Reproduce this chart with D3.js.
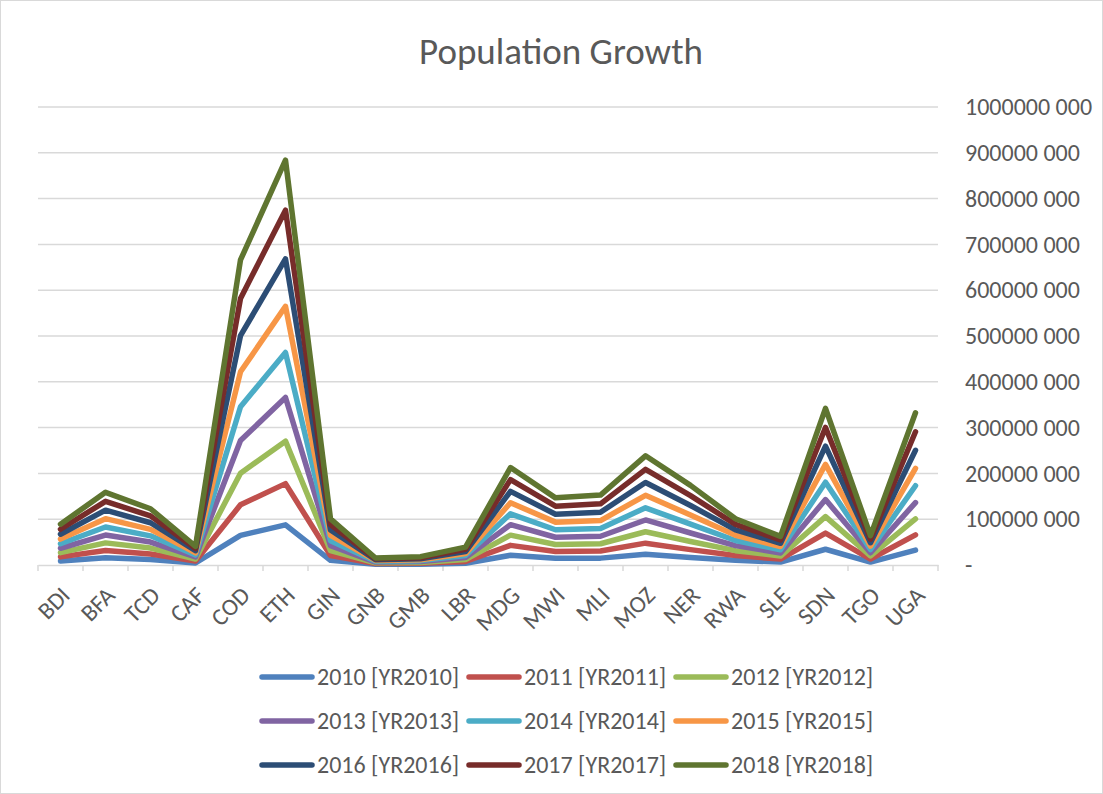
<!DOCTYPE html>
<html>
<head>
<meta charset="utf-8">
<script src="https://cdn.jsdelivr.net/npm/d3@7"></script>
<style>
  body { margin: 0; background: #fff; }
  text { font-family: Carlito, "Liberation Sans Narrow", "Noto Sans", sans-serif; fill: #595959; }
</style>
</head>
<body>
<div id="chart"></div>
<script>
// country codes along the x axis
var countries = ["BDI","BFA","TCD","CAF","COD","ETH","GIN","GNB","GMB","LBR",
                 "MDG","MWI","MLI","MOZ","NER","RWA","SLE","SDN","TGO","UGA"];

// population per year, millions (chart is a stacked line chart)
var y2010 = [8.7,15.6,11.9,4.4,64.6,87.6,10.2,1.56,1.79,3.89,21.2,14.5,15.0,23.5,16.5,10.2,6.4,34.4,6.4,32.4];
var y2011 = [9.0,16.1,12.3,4.4,66.8,90.1,10.4,1.60,1.85,4.00,21.7,14.9,15.5,24.2,17.1,10.4,6.5,35.2,6.6,33.5];
var y2012 = [9.3,16.6,12.7,4.4,69.0,92.7,10.6,1.63,1.90,4.11,22.3,15.4,15.9,24.9,17.8,10.7,6.6,36.1,6.8,34.6];
var y2013 = [9.6,17.1,13.2,4.4,71.4,95.4,10.9,1.67,1.96,4.21,22.9,15.8,16.4,25.7,18.5,11.0,6.8,37.1,6.9,35.7];
var y2014 = [9.9,17.6,13.6,4.5,73.8,98.1,11.1,1.71,2.02,4.32,23.6,16.3,16.9,26.5,19.2,11.2,6.9,38.0,7.1,36.9];
var y2015 = [10.2,18.1,14.1,4.5,76.2,100.8,11.4,1.74,2.09,4.43,24.2,16.7,17.4,27.3,20.0,11.5,7.1,38.9,7.3,38.0];
var y2016 = [10.5,18.6,14.5,4.6,78.8,103.6,11.7,1.78,2.15,4.54,24.9,17.2,18.0,28.0,20.8,11.7,7.2,39.8,7.5,39.3];
var y2017 = [10.8,19.2,15.0,4.6,81.4,106.4,12.1,1.83,2.21,4.68,25.6,17.7,18.5,28.8,21.6,12.0,7.4,40.8,7.7,40.5];
var y2018 = [11.2,19.8,15.5,4.7,84.1,109.2,12.4,1.87,2.28,4.82,26.3,18.1,19.1,29.5,22.4,12.3,7.7,41.8,7.9,41.5];

var seriesNames = ["2010 [YR2010]","2011 [YR2011]","2012 [YR2012]","2013 [YR2013]","2014 [YR2014]",
                   "2015 [YR2015]","2016 [YR2016]","2017 [YR2017]","2018 [YR2018]"];
var seriesValues = [y2010,y2011,y2012,y2013,y2014,y2015,y2016,y2017,y2018];
var colors = ["#4F81BD","#C0504D","#9BBB59","#8064A2","#4BACC6","#F79646","#2C4D75","#772C2A","#5F7530"];
var yTicks = [0,100e6,200e6,300e6,400e6,500e6,600e6,700e6,800e6,900e6,1000e6];

var width = 1103, height = 794;
var plotLeft = 38, plotRight = 938, plotTop = 107, plotBottom = 565;

var svg = d3.select("#chart").append("svg")
    .attr("width", width)
    .attr("height", height);

svg.append("rect")
    .attr("x", 0.5).attr("y", 0.5)
    .attr("width", width - 1).attr("height", height - 1)
    .attr("fill", "#fff")
    .attr("stroke", "#d9d9d9");

svg.append("text")
    .attr("x", 561)
    .attr("y", 64)
    .attr("text-anchor", "middle")
    .style("font-size", "37px")
    .text("Population Growth");

var x = d3.scaleBand()
    .domain(countries)
    .range([plotLeft, plotRight]);

var y = d3.scaleLinear()
    .domain([0, 1e9])
    .range([plotBottom, plotTop]);

// table of rows for stacking
var rows = countries.map(function(c, i) {
  var r = {country: c};
  seriesNames.forEach(function(s, j) { r[s] = seriesValues[j][i] * 1e6; });
  return r;
});
var stacked = d3.stack().keys(seriesNames)(rows);

// gridlines
svg.append("g")
    .selectAll("line")
    .data(yTicks.slice(1))
  .enter().append("line")
    .attr("x1", plotLeft).attr("x2", plotRight)
    .attr("y1", function(d) { return y(d); })
    .attr("y2", function(d) { return y(d); })
    .attr("stroke", "#d9d9d9")
    .attr("stroke-width", 1.5);

// right y axis labels
var fmt = function(d) { return d === 0 ? "-" : Math.round(d / 1000) + " 000"; };
var yAxis = d3.axisRight(y)
    .tickValues(yTicks)
    .tickSize(0)
    .tickPadding(27)
    .tickFormat(fmt);
var ya = svg.append("g")
    .attr("transform", "translate(" + plotRight + ",0)")
    .call(yAxis);
ya.select(".domain").remove();
ya.selectAll("text")
    .style("font-size", "24px")
    .attr("fill", "#595959");

// x axis
var xAxis = d3.axisBottom(x).tickSize(0).tickFormat("");
var xa = svg.append("g")
    .attr("transform", "translate(0," + plotBottom + ")")
    .call(xAxis);
xa.select(".domain").attr("stroke", "#d9d9d9").attr("stroke-width", 1.5);
xa.selectAll(".tick").remove();

var bounds = countries.map(function(c) { return x(c); }).concat([plotRight]);
xa.selectAll("line.sep")
    .data(bounds)
  .enter().append("line")
    .attr("class", "sep")
    .attr("x1", function(d) { return d; })
    .attr("x2", function(d) { return d; })
    .attr("y1", 0).attr("y2", 6)
    .attr("stroke", "#d9d9d9")
    .attr("stroke-width", 1.5);

xa.selectAll("text.lab")
    .data(countries)
  .enter().append("text")
    .attr("class", "lab")
    .attr("text-anchor", "end")
    .attr("transform", function(d) {
      return "translate(" + (x(d) + x.bandwidth() / 2 - 1) + ",20) rotate(-45)";
    })
    .attr("dy", "0.7em")
    .style("font-size", "24px")
    .text(function(d) { return d; });

// stacked lines
var line = d3.line()
    .x(function(d) { return x(d.data.country) + x.bandwidth() / 2; })
    .y(function(d) { return y(d[1]); });

svg.append("g")
    .selectAll("path")
    .data(stacked)
  .enter().append("path")
    .attr("d", line)
    .attr("fill", "none")
    .attr("stroke", function(d, i) { return colors[i]; })
    .attr("stroke-width", 5.5)
    .attr("stroke-linejoin", "round")
    .attr("stroke-linecap", "round");

// legend
var legend = svg.append("g");
var items = legend.selectAll("g")
    .data(seriesNames)
  .enter().append("g")
    .attr("transform", function(d, i) {
      var col = i % 3, row = Math.floor(i / 3);
      return "translate(" + (259 + col * 207) + "," + (677 + row * 44) + ")";
    });
items.append("line")
    .attr("x1", 3).attr("x2", 53)
    .attr("stroke", function(d, i) { return colors[i]; })
    .attr("stroke-width", 5.5)
    .attr("stroke-linecap", "round");
items.append("text")
    .attr("x", 58)
    .attr("dy", "0.35em")
    .style("font-size", "24px")
    .text(function(d) { return d; });
</script>
</body>
</html>
